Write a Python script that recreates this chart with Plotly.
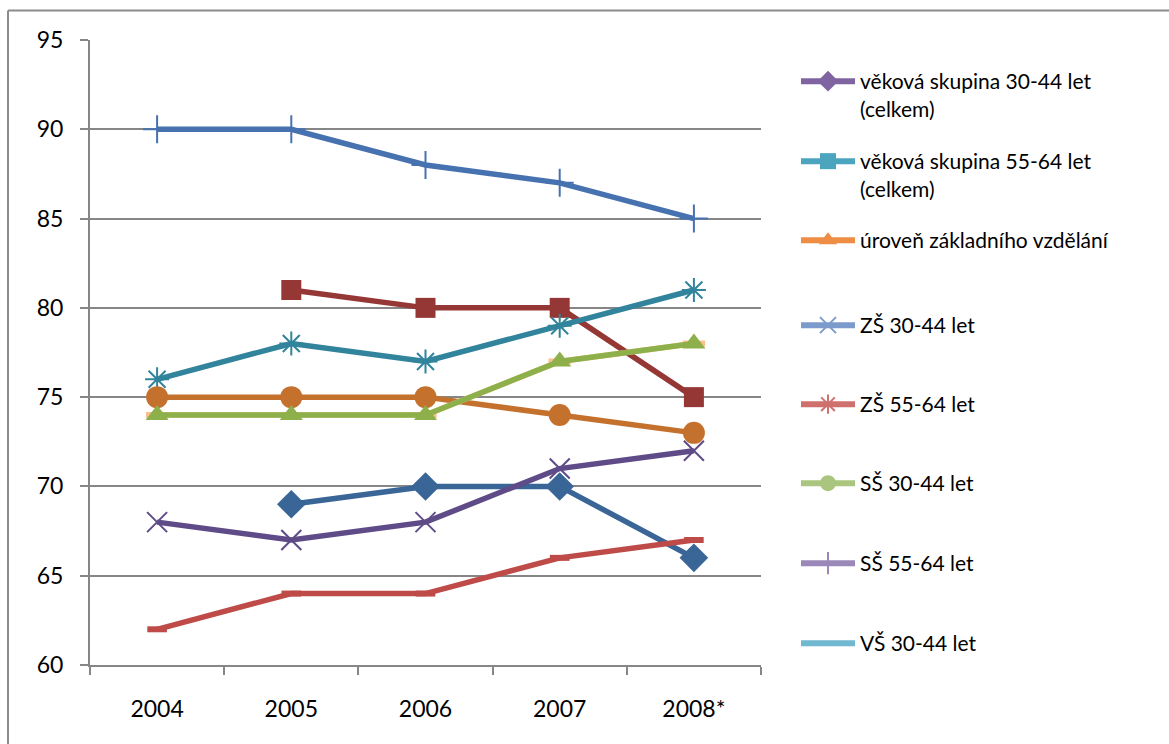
import plotly.graph_objects as go

years = ["2004", "2005", "2006", "2007", "2008*"]

# plotted series
blue_plus = [90, 90, 88, 87, 85]
darkred_sq = [None, 81, 80, 80, 75]
teal_ast = [76, 78, 77, 79, 81]
orange_circ = [75, 75, 75, 74, 73]
peach_dash = [74, 74, 74, 77, 78]
green_tri = [74, 74, 74, 77, 78]
darkblue_dia = [None, 69, 70, 70, 66]
purple_x = [68, 67, 68, 71, 72]
red_dash = [62, 64, 64, 66, 67]

legend_names = [
    "věková skupina 30-44 let<br>(celkem)",
    "věková skupina 55-64 let<br>(celkem)",
    "úroveň základního vzdělání",
    "ZŠ 30-44 let",
    "ZŠ 55-64 let",
    "SŠ 30-44 let",
    "SŠ 55-64 let",
    "VŠ 30-44 let",
]
legend_colors = ["#8064A2", "#4BA5BF", "#EE8E45", "#7C9ACB", "#D0706E", "#AAC57D", "#9A88B8", "#71B7CF"]
legend_symbols = ["diamond", "square", "triangle-up", "x-thin", "asterisk", "circle", "cross-thin", None]
legend_pos_px = [83, 163, 242, 327, 406, 485, 565, 645]

FONT = "Lato, 'Open Sans', sans-serif"
W, H = 1169, 744
L, R, T, B = 90, 408, 40, 79
PW, PH = W - L - R, H - T - B

fig = go.Figure()

def add_series(y, color, symbol, msize, lwidth=5.5, mline=0, thin=False):
    marker = dict(symbol=symbol, size=msize, color=color)
    if thin:
        marker["line"] = dict(color=color, width=mline)
    else:
        marker["line"] = dict(width=0)
    fig.add_trace(go.Scatter(
        x=years, y=y, mode="lines+markers",
        line=dict(color=color, width=lwidth),
        marker=marker, showlegend=False, hoverinfo="skip",
    ))

add_series(blue_plus, "#4672B0", "cross-thin", 20, mline=2, thin=True)
add_series(darkred_sq, "#953735", "square", 20)
add_series(teal_ast, "#31849B", "asterisk", 20, mline=2, thin=True)
add_series(orange_circ, "#C4712D", "circle", 22)
add_series(peach_dash, "#FAC08F", "line-ew", 16, mline=6, thin=True)
add_series(green_tri, "#8DB04A", "triangle-up", 20)
add_series(darkblue_dia, "#3A6597", "diamond", 22)
add_series(purple_x, "#5E4B87", "x-thin", 20, mline=2, thin=True)
add_series(red_dash, "#BE4B48", "line-ew", 14, mline=6, thin=True)

# legend-only traces, each in its own legend box
legend_layouts = {}
for i, (name, col, sym, ypx) in enumerate(zip(legend_names, legend_colors, legend_symbols, legend_pos_px)):
    key = "legend" if i == 0 else f"legend{i+1}"
    mk = dict(color=col, size=16)
    if sym is None:
        mode = "lines"
    else:
        mode = "lines+markers"
        mk["symbol"] = sym
        if sym in ("x-thin", "asterisk", "cross-thin"):
            mk["line"] = dict(color=col, width=2)
            mk["size"] = 16
        else:
            mk["line"] = dict(width=0)
    fig.add_trace(go.Scatter(
        x=[None], y=[None], name=name, mode=mode,
        line=dict(color=col, width=6), marker=mk,
        legend=key, showlegend=True,
    ))
    legend_layouts[key] = dict(
        x=(796 - L) / PW, xanchor="left",
        y=1 - (ypx - 22 - T) / PH, yanchor="top",
        valign="top", itemwidth=54,
        font=dict(family=FONT, size=21, color="#000000"),
        bgcolor="rgba(0,0,0,0)", borderwidth=0,
        tracegroupgap=0,
    )

grid = "#868686"
fig.update_layout(
    width=W, height=H,
    margin=dict(l=L, r=R, t=T, b=B, pad=0),
    paper_bgcolor="white", plot_bgcolor="white",
    font=dict(family=FONT, size=23, color="#000000"),
    xaxis=dict(
        type="category", range=[-0.5, 4.5],
        showline=True, linecolor=grid, linewidth=2,
        ticks="outside", ticklen=8, tickcolor=grid, tickwidth=2,
        tickson="boundaries", showgrid=False,
        tickfont=dict(family=FONT, size=23, color="#000000"),
        ticklabelstandoff=22,
        fixedrange=True,
    ),
    yaxis=dict(
        range=[60, 95], dtick=5, tick0=60,
        showline=True, linecolor=grid, linewidth=2,
        ticks="outside", ticklen=8, tickcolor=grid, tickwidth=2,
        showgrid=True, gridcolor=grid, gridwidth=2,
        zeroline=False,
        tickfont=dict(family=FONT, size=23, color="#000000"),
        ticklabelstandoff=12,
        fixedrange=True,
    ),
    shapes=[
        dict(type="line", xref="paper", yref="paper",
             x0=(8 - L) / PW, x1=(W + 5 - L) / PW,
             y0=1 + (T - 10.5) / PH, y1=1 + (T - 10.5) / PH,
             line=dict(color="#8C8C8C", width=2)),
        dict(type="line", xref="paper", yref="paper",
             x0=(8 - L) / PW, x1=(8 - L) / PW,
             y0=1 + (T - 10.5) / PH, y1=-(B + 5) / PH,
             line=dict(color="#8C8C8C", width=2)),
    ],
    **legend_layouts,
)

fig.write_html("out.html")
